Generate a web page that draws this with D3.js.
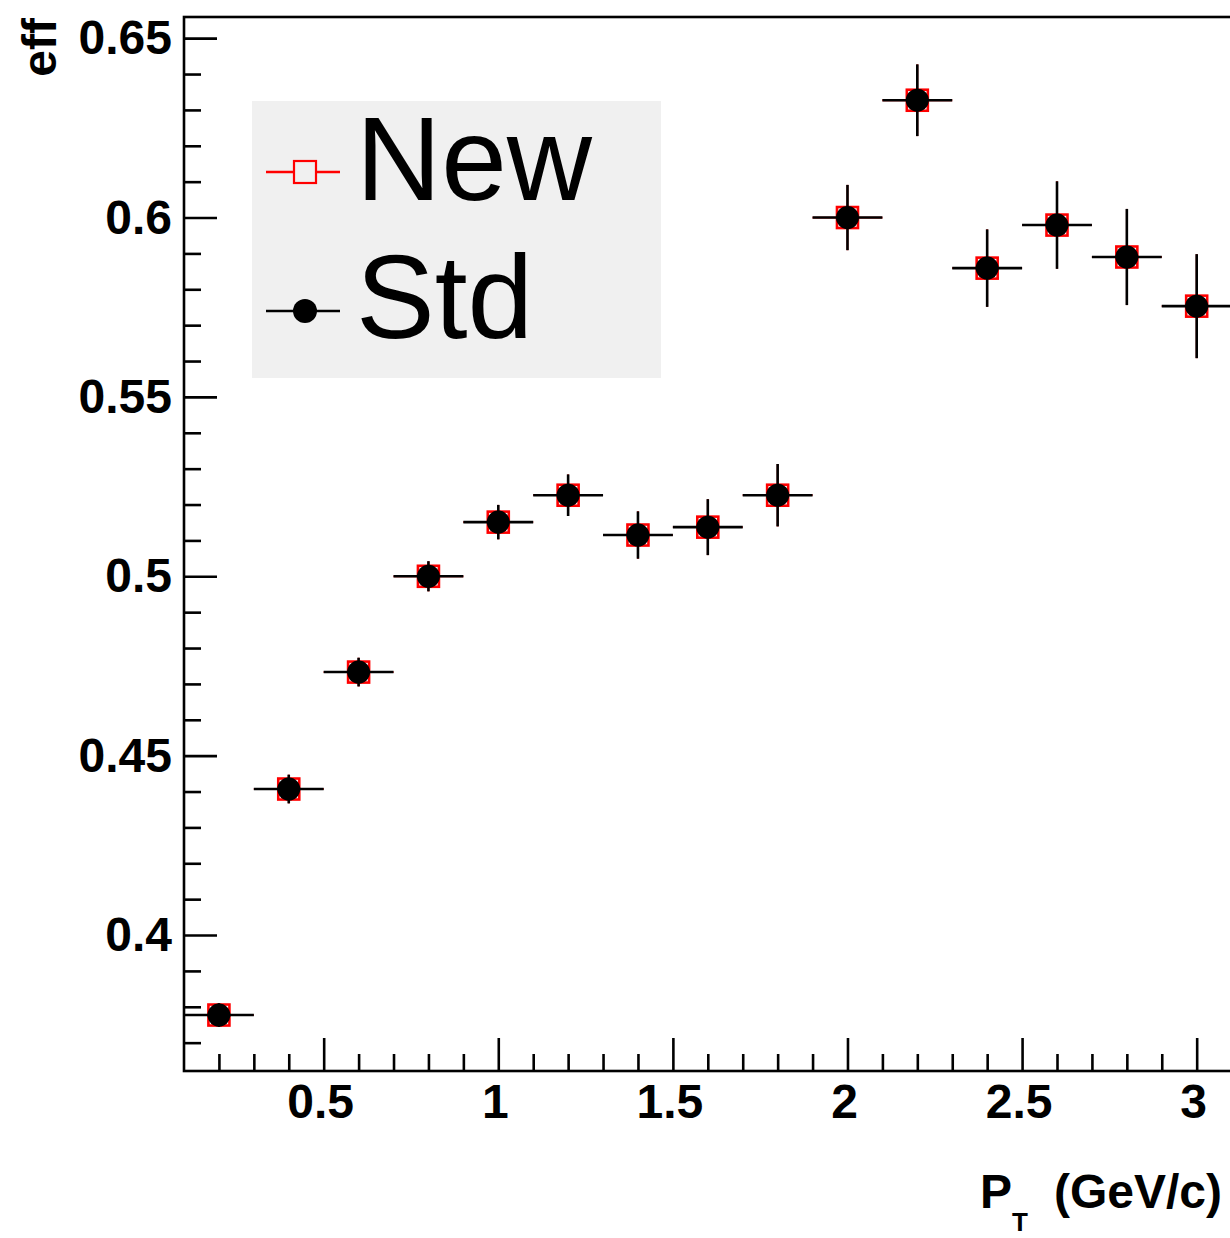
<!DOCTYPE html>
<html>
<head>
<meta charset="utf-8">
<script src="https://cdn.jsdelivr.net/npm/d3@7"></script>
<style>
  html, body { margin: 0; padding: 0; background: #fff; }
  svg { display: block; font-family: "Liberation Sans", Arial, Helvetica, sans-serif; }
</style>
</head>
<body>
<svg id="chart" width="1230" height="1238"></svg>
<script>
// pT bin centres (GeV/c) and half-widths
const ptCenters = [0.2, 0.4, 0.6, 0.8, 1.0, 1.2, 1.4, 1.6, 1.8, 2.0, 2.2, 2.4, 2.6, 2.8, 3.0];
const ptHalfWidth = 0.1;

// efficiency, new method
const newEff = [0.3777, 0.4407, 0.4733, 0.5000, 0.5151, 0.5226, 0.5115, 0.5137, 0.5226, 0.6000, 0.6327, 0.5859, 0.5979, 0.5890, 0.5753];
const newErr = [0.0033, 0.0040, 0.0040, 0.0042, 0.0048, 0.0058, 0.0066, 0.0078, 0.0087, 0.0091, 0.0100, 0.0108, 0.0122, 0.0134, 0.0145];

// efficiency, standard method
const stdEff = [0.3777, 0.4407, 0.4733, 0.5000, 0.5151, 0.5226, 0.5115, 0.5137, 0.5226, 0.6000, 0.6327, 0.5859, 0.5979, 0.5890, 0.5753];
const stdErr = [0.0033, 0.0040, 0.0040, 0.0042, 0.0048, 0.0058, 0.0066, 0.0078, 0.0087, 0.0091, 0.0100, 0.0108, 0.0122, 0.0134, 0.0145];

const yMajorTicks = [0.4, 0.45, 0.5, 0.55, 0.6, 0.65];
const yTickLabels = ["0.4", "0.45", "0.5", "0.55", "0.6", "0.65"];
const xMajorTicks = [0.5, 1, 1.5, 2, 2.5, 3];
const xTickLabels = ["0.5", "1", "1.5", "2", "2.5", "3"];

const legendEntries = ["New", "Std"];

const svg = d3.select("#chart");

const frame = { left: 184, top: 17, bottom: 1071 };
const x = d3.scaleLinear().domain([0.1, 3.1]).range([frame.left, frame.left + 3 * 349.2]);
const y = d3.scaleLinear().domain([0.3621, 0.6559]).range([frame.bottom, frame.top]);

const axisW = 2.6;

// frame (right side runs past the canvas edge)
svg.append("rect")
  .attr("x", x(0.1)).attr("y", y(0.6559))
  .attr("width", x(3.1) - x(0.1)).attr("height", y(0.3621) - y(0.6559))
  .attr("fill", "none").attr("stroke", "#000").attr("stroke-width", axisW);

// y ticks, drawn inward
const yMinor = d3.range(37, 66).map(d => d / 100);
const yAxis = d3.axisRight(y).tickValues(yMinor).tickSize(17).tickFormat("");
svg.append("g").attr("transform", `translate(${frame.left},0)`).call(yAxis)
  .call(g => g.select(".domain").remove())
  .call(g => g.selectAll("line").attr("stroke-width", axisW)
    .attr("x2", d => yMajorTicks.some(m => Math.abs(m - d) < 1e-6) ? 33 : 17));

// x ticks, drawn upward
const xMinor = d3.range(2, 31).map(d => d / 10);
const xAxis = d3.axisTop(x).tickValues(xMinor).tickSize(17).tickFormat("");
svg.append("g").attr("transform", `translate(0,${frame.bottom})`).call(xAxis)
  .call(g => g.select(".domain").remove())
  .call(g => g.selectAll("line").attr("stroke-width", axisW)
    .attr("y2", d => xMajorTicks.some(m => Math.abs(m - d) < 1e-6) ? -33 : -17));

// tick labels
svg.append("g").selectAll("text").data(yMajorTicks).join("text")
  .attr("x", 172).attr("y", d => y(d) + 16)
  .attr("text-anchor", "end").attr("font-size", 48).attr("font-weight", "bold")
  .text((d, i) => yTickLabels[i]);

svg.append("g").selectAll("text").data(xMajorTicks).join("text")
  .attr("x", d => x(d) - 3).attr("y", 1118)
  .attr("text-anchor", "middle").attr("font-size", 48).attr("font-weight", "bold")
  .text((d, i) => xTickLabels[i]);

// axis titles
svg.append("text")
  .attr("transform", "translate(56,18) rotate(-90)")
  .attr("text-anchor", "end").attr("font-size", 48).attr("font-weight", "bold")
  .text("eff");

const xt = svg.append("g").attr("font-weight", "bold");
xt.append("text").attr("x", 980).attr("y", 1208).attr("font-size", 48).text("P");
xt.append("text").attr("x", 1012).attr("y", 1231).attr("font-size", 26).text("T");
xt.append("text").attr("x", 1222).attr("y", 1208).attr("text-anchor", "end").attr("font-size", 48).text("(GeV/c)");

// data series
const plot = svg.append("g");

function drawSeries(vals, errs, color, marker, lw) {
  const g = plot.append("g");
  const pts = ptCenters.map((c, i) => ({ c, v: vals[i], e: errs[i] }));
  g.selectAll("line.h").data(pts).join("line").attr("class", "h")
    .attr("x1", d => x(d.c - ptHalfWidth)).attr("x2", d => x(d.c + ptHalfWidth))
    .attr("y1", d => y(d.v)).attr("y2", d => y(d.v))
    .attr("stroke", color).attr("stroke-width", lw);
  g.selectAll("line.v").data(pts).join("line").attr("class", "v")
    .attr("x1", d => x(d.c)).attr("x2", d => x(d.c))
    .attr("y1", d => y(d.v - d.e)).attr("y2", d => y(d.v + d.e))
    .attr("stroke", color).attr("stroke-width", lw);
  if (marker === "square") {
    g.selectAll("rect").data(pts).join("rect")
      .attr("x", d => x(d.c) - 10.5).attr("y", d => y(d.v) - 10.5)
      .attr("width", 21).attr("height", 21)
      .attr("fill", "none").attr("stroke", color).attr("stroke-width", 2.6);
  } else {
    g.selectAll("circle").data(pts).join("circle")
      .attr("cx", d => x(d.c)).attr("cy", d => y(d.v)).attr("r", 11.5)
      .attr("fill", color);
  }
}

drawSeries(newEff, newErr, "#ff0000", "square", 1.8);
drawSeries(stdEff, stdErr, "#000000", "circle", 2.6);

// legend
const leg = svg.append("g");
leg.append("rect").attr("x", 252).attr("y", 101).attr("width", 409).attr("height", 277).attr("fill", "#f0f0f0");

const legRows = [
  { label: legendEntries[0], y: 172, color: "#ff0000", marker: "square", ty: 200 },
  { label: legendEntries[1], y: 311, color: "#000000", marker: "circle", ty: 338 }
];
legRows.forEach(r => {
  leg.append("line").attr("x1", 266).attr("x2", 340).attr("y1", r.y).attr("y2", r.y)
    .attr("stroke", r.color).attr("stroke-width", 2.4);
  if (r.marker === "square") {
    leg.append("rect").attr("x", 305 - 11).attr("y", r.y - 11).attr("width", 22).attr("height", 22)
      .attr("fill", "#f0f0f0").attr("stroke", r.color).attr("stroke-width", 2.2);
  } else {
    leg.append("circle").attr("cx", 305).attr("cy", r.y).attr("r", 12).attr("fill", r.color);
  }
  leg.append("text").attr("x", 356).attr("y", r.ty).attr("font-size", 118).text(r.label);
});
</script>
</body>
</html>
